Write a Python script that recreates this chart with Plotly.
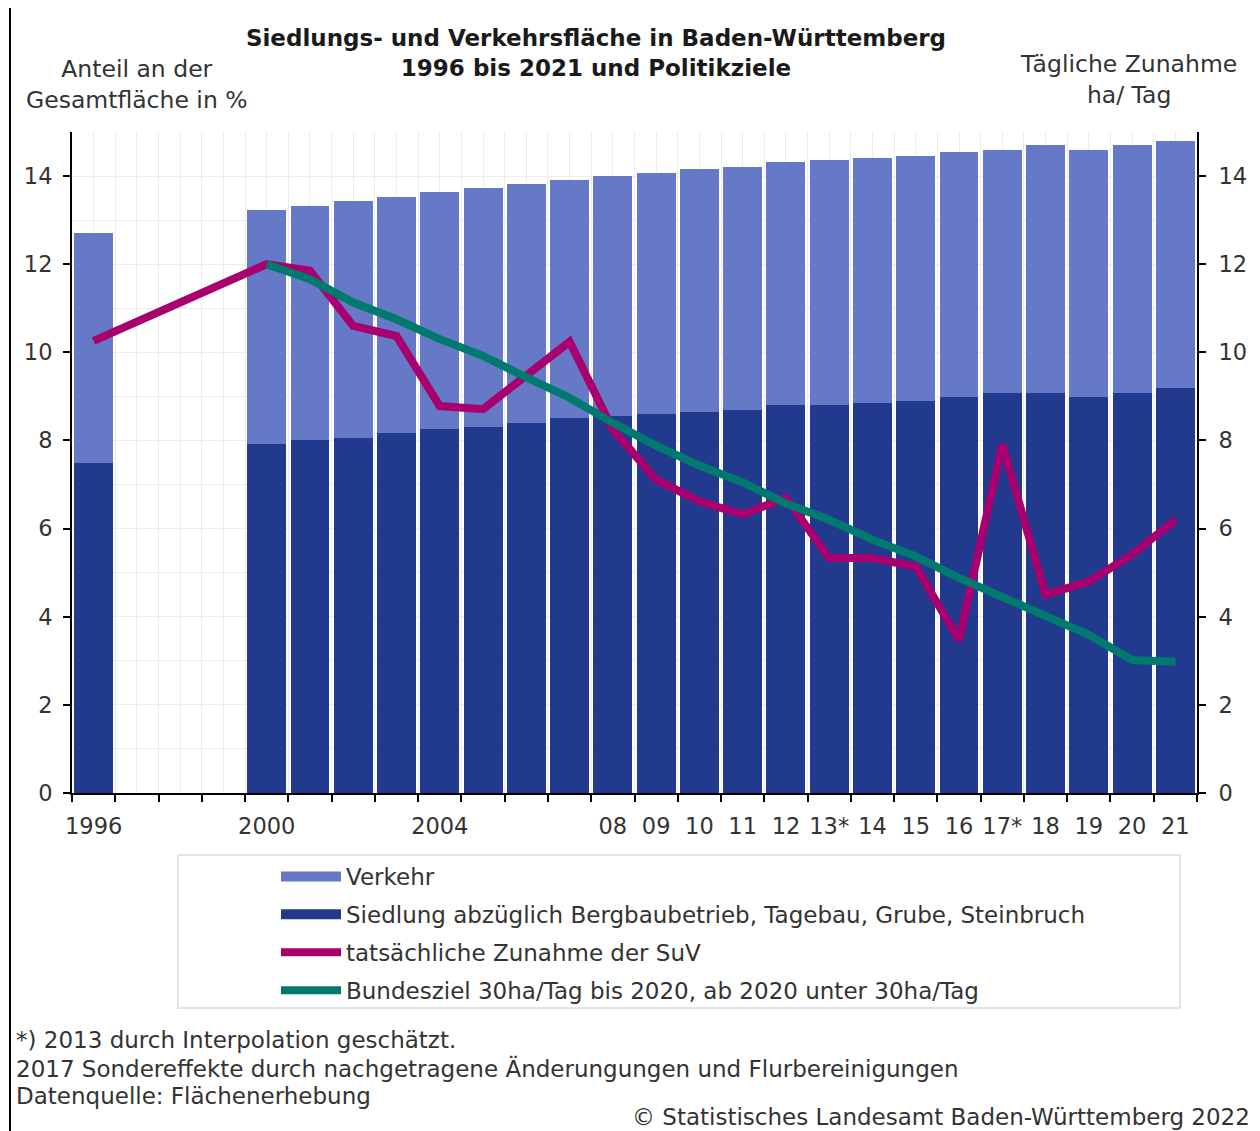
import plotly.graph_objects as go

# ---------------- data ----------------
bar_years = [1996] + list(range(2000, 2022))
siedlung = [7.48, 7.93, 8.01, 8.06, 8.16, 8.26, 8.31, 8.40, 8.50, 8.55, 8.60, 8.64,
            8.70, 8.80, 8.80, 8.84, 8.89, 8.99, 9.08, 9.08, 8.99, 9.08, 9.18]
verkehr = [5.22, 5.31, 5.32, 5.37, 5.36, 5.37, 5.42, 5.42, 5.42, 5.46, 5.47, 5.52,
           5.51, 5.52, 5.56, 5.57, 5.57, 5.56, 5.52, 5.62, 5.61, 5.62, 5.62]

zunahme_years = [1996] + list(range(2000, 2022))
zunahme = [10.26, 12.0, 11.85, 10.60, 10.37, 8.78, 8.71, 9.46, 10.24, 8.25, 7.11, 6.62,
           6.32, 6.70, 5.33, 5.33, 5.14, 3.47, 7.91, 4.50, 4.80, 5.41, 6.20]

ziel_years = list(range(2000, 2022))
ziel = [12.0, 11.66, 11.13, 10.75, 10.30, 9.92, 9.43, 8.97, 8.40, 7.88, 7.43, 7.05,
        6.57, 6.20, 5.75, 5.37, 4.88, 4.46, 4.00, 3.59, 3.02, 2.98]

tick_years = list(range(1996, 2022))
tick_labels = ["1996", "", "", "", "2000", "", "", "", "2004", "", "", "",
               "08", "09", "10", "11", "12", "13*", "14", "15", "16", "17*",
               "18", "19", "20", "21"]
y_ticks = [0, 2, 4, 6, 8, 10, 12, 14]

footnotes = ["*) 2013 durch Interpolation geschätzt.",
             "2017 Sondereffekte durch nachgetragene Änderungungen und Flurbereinigungen",
             "Datenquelle: Flächenerhebung"]

# ---------------- style ----------------
C_VERKEHR = "#6679C6"
C_SIEDLUNG = "#223A8E"
C_RED = "#A8006E"
C_GREEN = "#007A6E"
FONT = "DejaVu Sans"
TXT = "#333333"

OFF = 8  # page body margin
W, H = 1260 - OFF, 1131 - OFF
PL, PR, PT, PB = 72, 1197, 132, 793  # plot area in page pixels
ML, MR, MT, MB = PL - OFF, W - (PR - OFF), PT - OFF, H - (PB - OFF)
PW = W - ML - MR
PH = H - MT - MB


def px_x(px):
    return (px - OFF - ML) / PW


def px_y(py):
    return (H - MB - (py - OFF)) / PH


fig = go.Figure()

fig.add_trace(go.Bar(
    x=bar_years, y=siedlung, name="Siedlung abzüglich Bergbaubetrieb, Tagebau, Grube, Steinbruch",
    marker=dict(color=C_SIEDLUNG, line=dict(width=0)), width=0.9, showlegend=False,
))
fig.add_trace(go.Bar(
    x=bar_years, y=verkehr, name="Verkehr",
    marker=dict(color=C_VERKEHR, line=dict(width=0)), width=0.9, showlegend=False,
))
# legend swatches for the bar series (wide rectangles as in the original)
fig.add_trace(go.Scatter(
    x=[None], y=[None], name="Verkehr", mode="lines",
    line=dict(color=C_VERKEHR, width=10), legendgroup="a", legendrank=1,
))
fig.add_trace(go.Scatter(
    x=[None], y=[None], name="Siedlung abzüglich Bergbaubetrieb, Tagebau, Grube, Steinbruch",
    mode="lines", line=dict(color=C_SIEDLUNG, width=10), legendgroup="b", legendrank=2,
))
fig.add_trace(go.Scatter(
    x=zunahme_years, y=zunahme, name="tatsächliche Zunahme der SuV", mode="lines",
    line=dict(color=C_RED, width=8), yaxis="y2",
    legendgroup="c", legendrank=3,
))
fig.add_trace(go.Scatter(
    x=ziel_years, y=ziel, name="Bundesziel 30ha/Tag bis 2020, ab 2020 unter 30ha/Tag", mode="lines",
    line=dict(color=C_GREEN, width=8), yaxis="y2",
    legendgroup="d", legendrank=4,
))

grid_c = "#ececec"

fig.update_layout(
    width=W, height=H,
    margin=dict(l=ML, r=MR, t=MT, b=MB, autoexpand=False),
    paper_bgcolor="white", plot_bgcolor="white",
    barmode="stack",
    font=dict(family=FONT, size=22, color=TXT),
    title=dict(
        text="<b>Siedlungs- und Verkehrsfläche in Baden-Württemberg<br>1996 bis 2021 und Politikziele</b>",
        x=(596 - OFF) / W, xanchor="center", xref="container",
        y=1 - 38 / H, yanchor="top", yref="container",
        font=dict(family=FONT, size=23, color="#1a1a1a"),
    ),
    xaxis=dict(
        range=[1995.5, 2021.5],
        tickmode="array", tickvals=tick_years, ticktext=tick_labels,
        ticks="", showgrid=True, gridcolor=grid_c, gridwidth=1,
        showline=True, linecolor="black", linewidth=2,
        zeroline=False,
        tickfont=dict(size=22.5, color=TXT),
        ticklabelstandoff=12,
        minor=dict(tickmode="linear", tick0=1995.5, dtick=1, ticks="outside",
                   ticklen=7, tickwidth=2, tickcolor="black",
                   showgrid=True, gridcolor=grid_c, gridwidth=1),
        fixedrange=True,
    ),
    yaxis=dict(
        range=[0, 15], tickmode="array", tickvals=y_ticks,
        ticks="outside", ticklen=7, tickwidth=2, tickcolor="black",
        showline=True, linecolor="black", linewidth=2,
        showgrid=True, gridcolor=grid_c, gridwidth=1, zeroline=False,
        minor=dict(tickmode="linear", tick0=0, dtick=1, showgrid=True, gridcolor=grid_c),
        tickfont=dict(size=22.5, color=TXT),
        ticklabelstandoff=6,
    ),
    yaxis2=dict(
        range=[0, 15], tickmode="array", tickvals=y_ticks,
        overlaying="y", side="right",
        ticks="outside", ticklen=7, tickwidth=2, tickcolor="black",
        showline=True, linecolor="black", linewidth=2,
        showgrid=False, zeroline=False,
        tickfont=dict(size=22.5, color=TXT),
        ticklabelstandoff=8,
    ),
    legend=dict(
        x=px_x(276), xanchor="left", y=px_y(855), yanchor="top",
        orientation="v", traceorder="grouped", tracegroupgap=5,
        bgcolor="rgba(0,0,0,0)", borderwidth=0,
        font=dict(family=FONT, size=23, color=TXT),
        itemwidth=60,
    ),
    showlegend=True,
)

# legend frame
fig.add_shape(type="rect", xref="paper", yref="paper",
              x0=px_x(178), x1=px_x(1180), y0=px_y(855), y1=px_y(1008),
              line=dict(color="#e4e4e4", width=2), fillcolor="rgba(0,0,0,0)", layer="below")

# outer frame lines (left/right)
for fx in (10, 1256):
    fig.add_shape(type="line", xref="paper", yref="paper",
                  x0=px_x(fx), x1=px_x(fx), y0=px_y(8), y1=px_y(1140),
                  line=dict(color="black", width=2))

# axis titles
fig.add_annotation(text="Anteil an der<br>Gesamtfläche in %", xref="paper", yref="paper",
                   x=px_x(137), y=px_y(85), xanchor="center", yanchor="middle",
                   showarrow=False, align="center", font=dict(size=23.5, color=TXT))
fig.add_annotation(text="Tägliche Zunahme<br>ha/ Tag", xref="paper", yref="paper",
                   x=px_x(1128), y=px_y(79), xanchor="center", yanchor="middle",
                   showarrow=False, align="center", font=dict(size=23.5, color=TXT))

# footnotes
for i, line in enumerate(footnotes):
    fig.add_annotation(text=line, xref="paper", yref="paper",
                       x=px_x(14), y=px_y(1040 + 28 * i),
                       xanchor="left", yanchor="middle", showarrow=False, align="left",
                       font=dict(size=23, color=TXT))
fig.add_annotation(text="© Statistisches Landesamt Baden-Württemberg 2022",
                   xref="paper", yref="paper", x=px_x(1252), y=px_y(1117),
                   xanchor="right", yanchor="middle", showarrow=False,
                   font=dict(size=23, color=TXT))

fig.write_html("out.html")
